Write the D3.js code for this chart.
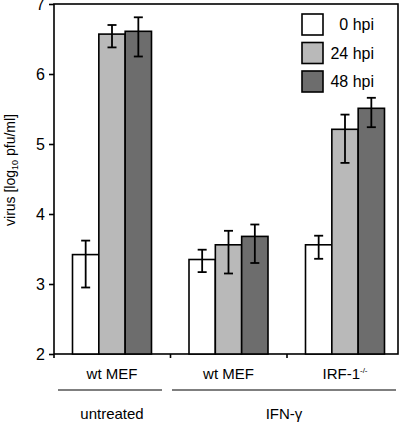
<!DOCTYPE html>
<html><head><meta charset="utf-8">
<script src="https://cdn.jsdelivr.net/npm/d3@7"></script>
<style>body{margin:0;background:#fff}svg{display:block}text{font-family:"Liberation Sans",Arial,sans-serif;fill:#000}</style>
</head><body>
<script>
const groups = ["wt MEF|untreated", "wt MEF|IFN", "IRF|IFN"];
const series = ["0 hpi", "24 hpi", "48 hpi"];
const colors = ["#ffffff", "#b9b9b9", "#6d6d6d"];
const means = [[3.42, 6.57, 6.61], [3.35, 3.56, 3.68], [3.56, 5.21, 5.51]];
const errLo = [[2.95, 6.38, 6.25], [3.17, 3.15, 3.30], [3.36, 4.73, 5.24]];
const errHi = [[3.62, 6.70, 6.81], [3.49, 3.76, 3.85], [3.69, 5.42, 5.66]];
const yTicks = [2, 3, 4, 5, 6, 7];
const catLabels = ["wt MEF", "wt MEF", "IRF-1"];

(function() {
const W = 400, H = 424;
const svg = d3.select("body").append("svg").attr("width", W).attr("height", H);
const mLeft = 54, mRight = 398, mTop = 4, mBottom = 354;

const y = d3.scaleLinear().domain([2, 7]).range([mBottom, mTop]);
const x0 = d3.scaleBand().domain(groups).range([mLeft, 403.5]);
const x1 = d3.scaleBand().domain(series).range([18.5, 97.5]);

// frame
svg.append("rect").attr("x", mLeft).attr("y", mTop).attr("width", mRight - mLeft).attr("height", mBottom - mTop)
  .attr("fill", "none").attr("stroke", "#000").attr("stroke-width", 1.6);

// bars
const g = svg.selectAll("g.grp").data(groups).join("g").attr("class", "grp").attr("transform", d => `translate(${x0(d)},0)`);
g.each(function(grp, gi) {
  const sel = d3.select(this);
  series.forEach((s, si) => {
    const v = means[gi][si];
    sel.append("rect").attr("x", x1(s)).attr("y", y(v)).attr("width", x1.bandwidth()).attr("height", y(2) - y(v))
      .attr("fill", colors[si]).attr("stroke", "#000").attr("stroke-width", 1.6);
    const cx = x1(s) + x1.bandwidth() / 2;
    const cw = 4.5;
    sel.append("line").attr("x1", cx).attr("x2", cx).attr("y1", y(errLo[gi][si])).attr("y2", y(errHi[gi][si]))
      .attr("stroke", "#000").attr("stroke-width", 1.8);
    [errLo[gi][si], errHi[gi][si]].forEach(e => {
      sel.append("line").attr("x1", cx - cw).attr("x2", cx + cw).attr("y1", y(e)).attr("y2", y(e))
        .attr("stroke", "#000").attr("stroke-width", 1.8);
    });
  });
});

// y axis
const ya = svg.append("g").attr("transform", `translate(${mLeft},0)`)
  .call(d3.axisLeft(y).tickValues(yTicks).tickSize(5).tickPadding(4).tickFormat(d3.format("d")));
ya.select(".domain").remove();
ya.selectAll("line").attr("stroke", "#000").attr("stroke-width", 1.6);
ya.selectAll("text").attr("font-size", 16).attr("font-family", "Liberation Sans, Arial, sans-serif").attr("fill", "#000");

// x axis ticks between groups
const xTickPos = [mLeft, x0(groups[1]), x0(groups[2])];
svg.selectAll("line.xt").data(xTickPos).join("line").attr("class", "xt")
  .attr("x1", d => d).attr("x2", d => d).attr("y1", mBottom).attr("y2", mBottom + 4)
  .attr("stroke", "#000").attr("stroke-width", 1.6);

// category labels
catLabels.forEach((t, i) => {
  const cx = x0(groups[i]) + 58;
  const tx = svg.append("text").attr("x", cx).attr("y", 379).attr("text-anchor", "middle").attr("font-size", 15).text(t);
  if (i === 2) {
    tx.append("tspan").attr("font-size", 8).attr("dy", -6).text("-/-");
  }
});

// group lines
svg.append("line").attr("x1", 58).attr("x2", 162).attr("y1", 390).attr("y2", 390).attr("stroke", "#000").attr("stroke-width", 1.2);
svg.append("line").attr("x1", 172).attr("x2", 396).attr("y1", 390).attr("y2", 390).attr("stroke", "#000").attr("stroke-width", 1.2);
svg.append("text").attr("x", 112).attr("y", 419).attr("text-anchor", "middle").attr("font-size", 15).text("untreated");
svg.append("text").attr("x", 284).attr("y", 419).attr("text-anchor", "middle").attr("font-size", 15).text("IFN-γ");

// y title
const yt = svg.append("text").attr("transform", "translate(15,170) rotate(-90)").attr("text-anchor", "middle").attr("font-size", 14);
yt.append("tspan").text("virus [log");
yt.append("tspan").attr("font-size", 9).attr("dy", 3).text("10");
yt.append("tspan").attr("dy", -3).text(" pfu/ml]");

// legend
series.forEach((s, i) => {
  const ly = 14 + i * 28.5;
  svg.append("rect").attr("x", 302).attr("y", ly).attr("width", 21).attr("height", 21)
    .attr("fill", colors[i]).attr("stroke", "#000").attr("stroke-width", 1.6);
  svg.append("text").attr("x", 374).attr("y", ly + 16).attr("text-anchor", "end").attr("font-size", 16).text(s);
});
})();
</script>
</body></html>
